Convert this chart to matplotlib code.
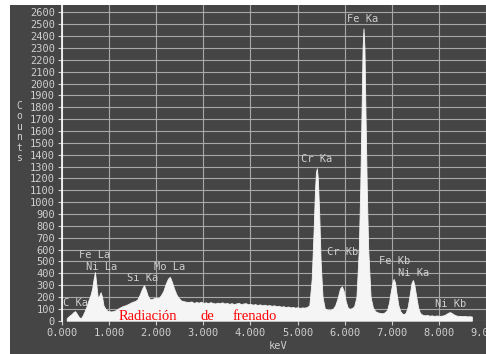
import numpy as np
import matplotlib
matplotlib.use('Agg')
import matplotlib.pyplot as plt
from matplotlib.patches import Rectangle

# ── Spectrum (keV, counts) ───────────────────────────────────────────────────
ENERGY = [
    0.10, 0.15, 0.20, 0.25, 0.28, 0.32, 0.36, 0.40, 0.44, 0.48, 0.52, 0.56,
    0.60, 0.64, 0.67, 0.70, 0.73, 0.76, 0.79, 0.82, 0.85, 0.88, 0.92, 0.96,
    1.00, 1.05, 1.10, 1.15, 1.20, 1.25, 1.30, 1.35, 1.40, 1.45, 1.50, 1.55,
    1.60, 1.65, 1.70, 1.74, 1.78, 1.82, 1.86, 1.90, 1.95, 2.00, 2.05, 2.10,
    2.15, 2.20, 2.25, 2.29, 2.33, 2.38, 2.43, 2.48, 2.53, 2.58, 2.63, 2.68,
    2.75, 2.80, 2.85, 2.90, 2.95, 3.00, 3.05, 3.10, 3.15, 3.20, 3.25, 3.30,
    3.35, 3.40, 3.45, 3.50, 3.55, 3.60, 3.65, 3.70, 3.75, 3.80, 3.85, 3.90,
    3.95, 4.00, 4.05, 4.10, 4.15, 4.20, 4.25, 4.30, 4.35, 4.40, 4.45, 4.50,
    4.55, 4.60, 4.65, 4.70, 4.75, 4.80, 4.85, 4.90, 4.95, 5.00, 5.05, 5.10,
    5.15, 5.20, 5.25, 5.30, 5.34, 5.37, 5.39, 5.41, 5.43, 5.46, 5.49, 5.53,
    5.58, 5.62, 5.66, 5.70, 5.75, 5.80, 5.85, 5.90, 5.94, 5.98, 6.02, 6.06,
    6.10, 6.15, 6.20, 6.25, 6.30, 6.33, 6.36, 6.38, 6.40, 6.42, 6.44, 6.47,
    6.50, 6.55, 6.60, 6.65, 6.70, 6.75, 6.80, 6.85, 6.90, 6.94, 6.98, 7.02,
    7.04, 7.07, 7.10, 7.14, 7.18, 7.22, 7.26, 7.30, 7.34, 7.38, 7.42, 7.45,
    7.48, 7.52, 7.56, 7.60, 7.65, 7.70, 7.75, 7.80, 7.85, 7.90, 7.95, 8.00,
    8.05, 8.10, 8.15, 8.20, 8.24, 8.28, 8.33, 8.38, 8.45, 8.50, 8.55, 8.60,
    8.65, 8.70,
]
COUNTS = [
    20, 40, 55, 75, 80, 55, 30, 20, 45, 80, 120, 170,
    210, 270, 350, 410, 300, 190, 210, 240, 200, 130, 100, 85,
    80, 78, 82, 90, 105, 115, 125, 130, 140, 150, 160, 165,
    180, 220, 270, 300, 260, 210, 185, 180, 190, 195, 190, 215,
    250, 310, 355, 370, 330, 270, 220, 190, 170, 165, 160, 158,
    162, 150, 158, 152, 160, 150, 155, 148, 156, 150, 145, 152,
    147, 155, 145, 150, 142, 148, 140, 146, 150, 140, 145, 148,
    138, 142, 135, 140, 132, 138, 130, 135, 128, 132, 125, 130,
    122, 126, 118, 122, 115, 120, 112, 116, 110, 114, 108, 112,
    110, 115, 130, 350, 750, 1100, 1250, 1285, 1200, 900, 500, 200,
    100, 95, 90, 92, 100, 130, 190, 270, 290, 250, 170, 115,
    100, 105, 120, 200, 600, 1100, 1800, 2300, 2465, 2300, 1800, 1100,
    600, 200, 110, 80, 70, 65, 62, 70, 90, 150, 250, 330,
    352, 320, 230, 130, 80, 60, 55, 70, 120, 220, 320, 343,
    300, 200, 110, 65, 50, 45, 48, 42, 45, 40, 44, 40,
    42, 45, 55, 68, 72, 62, 50, 42, 40, 38, 40, 36,
    38, 35,
]

# peak labels: text, keV, counts (lower-left corner of the label)
PEAK_NAMES  = ["C Ka", "Fe La", "Ni La", "Si Ka", "Mo La", "Cr Ka", "Fe Ka",
               "Cr Kb", "Fe Kb", "Ni Ka", "Ni Kb"]
PEAK_KEV    = [0.02, 0.36, 0.50, 1.39, 1.96, 5.08, 6.05, 5.62, 6.72, 7.14, 7.92]
PEAK_COUNTS = [110, 510, 410, 320, 410, 1320, 2500, 540, 460, 360, 100]

XTICKS = [0, 1, 2, 3, 4, 5, 6, 7, 8, 9]
YTICKS = list(range(0, 2700, 100))

BG   = '#454545'
GRID = '#a8a8a8'
TXT  = '#cfcfcf'
MONO = 'DejaVu Sans Mono'

fig = plt.figure(figsize=(4.86, 3.54), dpi=100)
fig.patch.set_facecolor('white')
fig.patches.append(Rectangle((10 / 486, 0), 1, 349 / 354, transform=fig.transFigure,
                             facecolor=BG, edgecolor='none', zorder=-10))

ax = fig.add_axes([62 / 486, 33.3 / 354, 424 / 486, 315.7 / 354])
ax.set_facecolor(BG)
ax.set_xlim(0, 8.69)
ax.set_ylim(0, 2662)

ax.set_xticks(XTICKS)
ax.set_xticklabels([f"{v:.3f}" for v in XTICKS])
ax.set_yticks(YTICKS)
ax.tick_params(axis='both', colors=TXT, labelsize=7.5, length=3, width=0.8, pad=2)
for lab in ax.get_xticklabels() + ax.get_yticklabels():
    lab.set_fontfamily(MONO)
ax.grid(True, color=GRID, linewidth=0.8)
ax.set_axisbelow(True)

for s in ['top', 'right', 'bottom']:
    ax.spines[s].set_visible(False)
ax.spines['left'].set_color('white')
ax.spines['left'].set_linewidth(1.2)

ax.fill_between(ENERGY, COUNTS, 0, color='#f5f5f5', linewidth=0.6,
                edgecolor='#f5f5f5', zorder=3)

for name, e, c in zip(PEAK_NAMES, PEAK_KEV, PEAK_COUNTS):
    ax.text(e, c, name, color=TXT, fontsize=7.5, family=MONO,
            ha='left', va='bottom', zorder=4)

# red annotation
for word, e in [("Radiación", 1.21), ("de", 2.95), ("frenado", 3.61)]:
    ax.text(e, 8, word, color='red', fontsize=10.5, family='Liberation Serif',
            ha='left', va='baseline', zorder=5)

fig.text(278 / 486, 1 - 346 / 354, "keV", color=TXT, fontsize=7.5, family=MONO,
         ha='center', va='center')
fig.text(19 / 486, 1 - 132 / 354, "C\no\nu\nn\nt\ns", color=TXT, fontsize=7,
         family=MONO, ha='center', va='center', linespacing=1.05)

fig.savefig("out.png", dpi=100, facecolor=fig.get_facecolor())
